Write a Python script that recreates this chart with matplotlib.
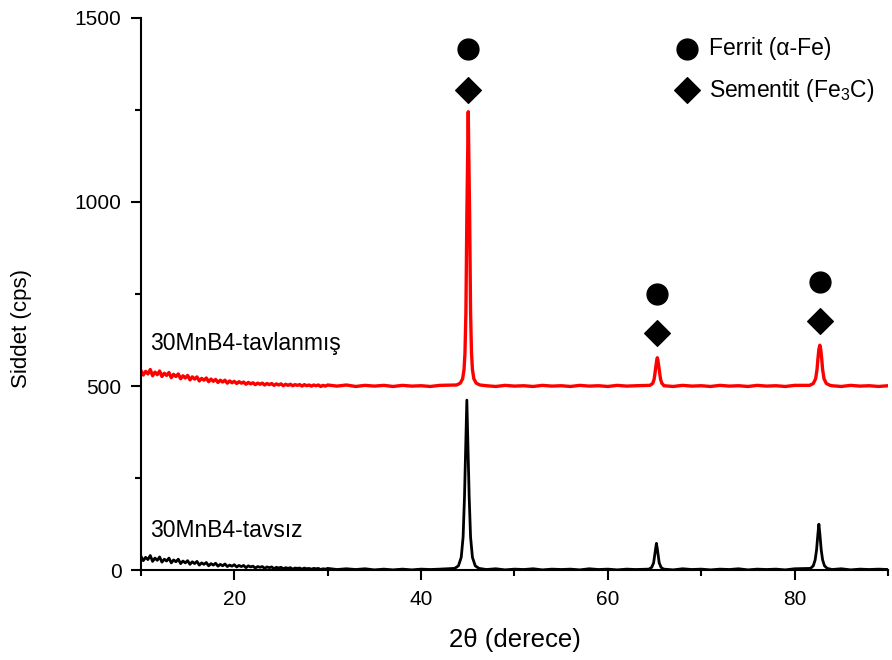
import numpy as np
import matplotlib
matplotlib.use('Agg')
import matplotlib.pyplot as plt

plt.rcParams['font.family'] = ['Liberation Sans', 'DejaVu Sans']
plt.rcParams['mathtext.fontset'] = 'custom'
plt.rcParams['mathtext.rm'] = 'Liberation Sans'

# ---- data (2theta in degrees, intensity in cps) ----
# untreated sample (black)
tavsiz_low_y = [38, 26, 35, 29, 40, 24, 33, 27, 36, 22,
                30, 25, 33, 20, 28, 23, 30, 18, 25, 20,
                26, 16, 23, 18, 24, 14, 20, 16, 21, 12,
                18, 14, 19, 11, 16, 12, 17, 10, 14, 11,
                15, 9, 13, 10, 13, 7, 12, 9, 11, 6,
                10, 8, 10, 5, 9, 7, 9, 4, 8, 6,
                8, 4, 7, 5, 7, 3, 6, 5, 6, 3,
                6, 4, 5, 3, 5, 4, 5, 2, 4, 3]
tavsiz_mid_y = [5, 2, 4, 2, 4, 1, 3, 1, 3, 1, 3, 2, 3]
tavsiz_p1_x = [43.6, 44.0, 44.3, 44.5, 44.65, 44.8, 44.9, 45.0, 45.15, 45.3, 45.5, 45.8, 46.2]
tavsiz_p1_y = [5, 12, 35, 90, 200, 360, 462, 360, 200, 90, 35, 12, 5]
tavsiz_b2_y = [2, 4, 1, 3, 2, 4, 1, 3, 2, 3, 1, 4, 2, 3, 1, 3, 2]
tavsiz_p2_x = [64.4, 64.7, 64.9, 65.0, 65.1, 65.2, 65.3, 65.4, 65.5, 65.7, 65.95]
tavsiz_p2_y = [3, 8, 20, 38, 58, 73, 58, 38, 20, 8, 3]
tavsiz_b3_y = [3, 1, 4, 2, 3, 1, 3, 2, 4, 1, 3, 2, 3, 1, 4, 3]
tavsiz_p3_x = [81.7, 82.0, 82.2, 82.35, 82.5, 82.6, 82.7, 82.85, 83.0, 83.2, 83.5]
tavsiz_p3_y = [5, 12, 28, 55, 100, 125, 100, 55, 28, 12, 5]
tavsiz_b4_y = [2, 4, 1, 3, 2, 3, 2]

# annealed sample (red)
tavli_low_y = [542, 530, 540, 533, 545, 528, 538, 531, 541, 526,
               535, 529, 537, 523, 532, 526, 533, 520, 528, 522,
               529, 517, 525, 519, 525, 514, 521, 516, 522, 512,
               519, 513, 518, 510, 516, 511, 516, 508, 514, 509,
               513, 507, 512, 508, 511, 505, 510, 506, 509, 504,
               508, 505, 508, 503, 507, 504, 507, 502, 506, 503,
               506, 501, 505, 502, 505, 501, 504, 502, 504, 500,
               504, 501, 503, 500, 503, 501, 503, 499, 502, 500]
tavli_mid_y = [503, 500, 503, 499, 502, 500, 502, 499, 502, 500, 501, 499, 502]
tavli_p1_x = [43.8, 44.2, 44.45, 44.6, 44.7, 44.8, 44.9, 45.0, 45.05, 45.1, 45.2,
              45.3, 45.4, 45.5, 45.65, 45.9, 46.3]
tavli_p1_y = [503, 508, 520, 545, 590, 700, 960, 1150, 1245, 1150, 960,
              700, 590, 545, 520, 508, 503]
tavli_b2_y = [501, 499, 502, 500, 501, 499, 502, 500, 501, 499, 502, 500, 501, 499, 502, 500, 501]
tavli_p2_x = [64.5, 64.8, 64.95, 65.05, 65.15, 65.25, 65.3, 65.35, 65.45, 65.55, 65.65, 65.8, 65.95]
tavli_p2_y = [502, 507, 518, 535, 555, 572, 577, 572, 555, 535, 518, 507, 503]
tavli_b3_y = [501, 499, 502, 500, 501, 499, 502, 500, 501, 499, 502, 500, 501, 499, 502, 501]
tavli_p3_x = [81.6, 82.0, 82.25, 82.4, 82.5, 82.6, 82.7, 82.8, 82.9, 83.0, 83.15, 83.4, 83.8]
tavli_p3_y = [502, 507, 520, 545, 575, 600, 611, 600, 575, 545, 520, 507, 502]
tavli_b4_y = [501, 499, 502, 500, 501, 499, 501]

# phase markers above peaks
ferrit_x = [45.0, 65.3, 82.7]
ferrit_y = [1416, 750, 783]
sementit_x = [45.0, 65.3, 82.7]
sementit_y = [1304, 644, 677]

# baseline sampling grid
low_x = np.arange(10.0, 30.0, 0.25)
mid_x = np.arange(30.0, 43.0, 1.0)
b2_x = np.arange(47.0, 64.0, 1.0)
b3_x = np.arange(66.0, 82.0, 1.0)[:-1]
b4_x = np.arange(84.0, 91.0, 1.0)


def build(low, mid, p1x, p1y, b2, p2x, p2y, b3, p3x, p3y, b4):
    x = np.concatenate([low_x, mid_x, p1x, b2_x, p2x, b3_x, p3x, b4_x])
    y = np.concatenate([low, mid, p1y, b2, p2y, b3[:len(b3_x)], p3y, b4])
    return x, y


x_black, y_black = build(tavsiz_low_y, tavsiz_mid_y, tavsiz_p1_x, tavsiz_p1_y, tavsiz_b2_y,
                         tavsiz_p2_x, tavsiz_p2_y, tavsiz_b3_y, tavsiz_p3_x, tavsiz_p3_y, tavsiz_b4_y)
x_red, y_red = build(tavli_low_y, tavli_mid_y, tavli_p1_x, tavli_p1_y, tavli_b2_y,
                     tavli_p2_x, tavli_p2_y, tavli_b3_y, tavli_p3_x, tavli_p3_y, tavli_b4_y)

# ---- plot ----
fig = plt.figure(figsize=(8.92, 6.6), dpi=100)
ax = fig.add_axes([0.158, 0.136, 0.8375, 0.837])

ax.plot(x_black, y_black, color='black', lw=2.0)
ax.plot(x_red, y_red, color='red', lw=2.4)

ax.scatter(ferrit_x, ferrit_y, marker='o', s=225, color='black', zorder=3)
ax.scatter(sementit_x, sementit_y, marker='D', s=170, color='black', zorder=3)

ax.set_xlim(10, 90)
ax.set_ylim(0, 1500)
ax.set_xticks([20, 40, 60, 80])
ax.set_xticks([10, 30, 50, 70, 90], minor=True)
ax.set_yticks([0, 500, 1000, 1500])
ax.set_yticks([250, 750, 1250], minor=True)
ax.tick_params(which='major', direction='out', length=7, width=1.5, labelsize=15, pad=7)
ax.tick_params(which='minor', direction='out', length=4, width=1.5)

for side in ['top', 'right']:
    ax.spines[side].set_visible(False)
for side in ['left', 'bottom']:
    ax.spines[side].set_linewidth(1.5)

ax.set_xlabel('2θ (derece)', fontsize=18.5, labelpad=14)
ax.set_ylabel('Siddet (cps)', fontsize=16)
ax.yaxis.set_label_coords(-0.146, 0.438)

ax.text(11, 615, '30MnB4-tavlanmış', fontsize=16.5, va='center')
ax.text(11, 108, '30MnB4-tavsız', fontsize=16.5, va='center')

# legend drawn as markers + text
ax.scatter([68.45], [1416], marker='o', s=225, color='black')
ax.scatter([68.45], [1304], marker='D', s=170, color='black')
ax.text(70.8, 1416, 'Ferrit (α-Fe)', fontsize=16.5, va='center')
ax.text(70.8, 1304, r'Sementit (Fe$\mathregular{_3}$C)', fontsize=16.5, va='center')

fig.savefig('out.png', dpi=100)
